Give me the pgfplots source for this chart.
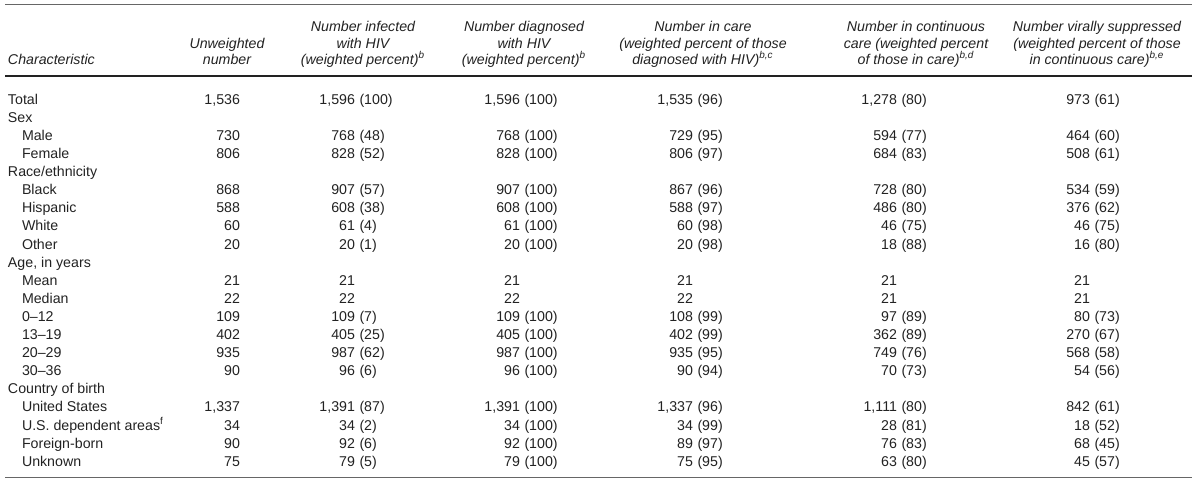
\documentclass[border=0pt]{standalone}
\usepackage{fontspec}
\setmainfont{Liberation Sans}
\usepackage{pgfplots}
\usepackage{pgfplotstable}
\pgfplotsset{compat=1.18}
\definecolor{txt}{HTML}{222222}
\definecolor{rulec}{HTML}{666666}

% row index; numbers and (weighted percent) for the six value columns
\pgfplotstableread[col sep=semicolon]{
r;n1;n2;p2;n3;p3;n4;p4;n5;p5;n6;p6
0;1,536;1,596;(100);1,596;(100);1,535;(96);1,278;(80);973;(61)
2;730;768;(48);768;(100);729;(95);594;(77);464;(60)
3;806;828;(52);828;(100);806;(97);684;(83);508;(61)
5;868;907;(57);907;(100);867;(96);728;(80);534;(59)
6;588;608;(38);608;(100);588;(97);486;(80);376;(62)
7;60;61;(4);61;(100);60;(98);46;(75);46;(75)
8;20;20;(1);20;(100);20;(98);18;(88);16;(80)
10;21;21;{};21;{};21;{};21;{};21;{}
11;22;22;{};22;{};22;{};21;{};21;{}
12;109;109;(7);109;(100);108;(99);97;(89);80;(73)
13;402;405;(25);405;(100);402;(99);362;(89);270;(67)
14;935;987;(62);987;(100);935;(95);749;(76);568;(58)
15;90;96;(6);96;(100);90;(94);70;(73);54;(56)
17;1,337;1,391;(87);1,391;(100);1,337;(96);1,111;(80);842;(61)
18;34;34;(2);34;(100);34;(99);28;(81);18;(52)
19;90;92;(6);92;(100);89;(97);76;(83);68;(45)
20;75;79;(5);79;(100);75;(95);63;(80);45;(57)
}\datatab

\pgfplotstableread[col sep=semicolon]{
r;x;label
0;8;Total
1;8;Sex
2;22;Male
3;22;Female
4;8;Race/ethnicity
5;22;Black
6;22;Hispanic
7;22;White
8;22;Other
9;8;Age, in years
10;22;Mean
11;22;Median
12;22;0–12
13;22;13–19
14;22;20–29
15;22;30–36
16;8;Country of birth
17;22;United States
18;22;U.S. dependent areas\textsuperscript{f}
19;22;Foreign-born
20;22;Unknown
}\labeltab

\pgfplotstableread[col sep=semicolon]{
x;y;label
227;48.5;Unweighted
227;65;number
363;32;Number infected
363;48.5;with HIV
363;65;(weighted percent)\textsuperscript{b}
524;32;Number diagnosed
524;48.5;with HIV
524;65;(weighted percent)\textsuperscript{b}
703;32;Number in care
703;48.5;(weighted percent of those
703;65;diagnosed with HIV)\textsuperscript{b,c}
916;32;Number in continuous
916;48.5;care (weighted percent
916;65;of those in care)\textsuperscript{b,d}
1097;32;Number virally suppressed
1097;48.5;(weighted percent of those
1097;65;in continuous care)\textsuperscript{b,e}
}\headtab

\pgfplotsset{
  cell/.style={only marks, mark=none, nodes near coords, point meta=explicit symbolic,
    every node near coord/.append style={inner sep=0pt, outer sep=0pt, text=txt,
      font=\fontsize{7.1}{8.5}\selectfont, anchor=#1}},
}

\begin{document}
\begin{tikzpicture}
\begin{axis}[hide axis, scale only axis, width=600pt, height=240pt,
  xmin=0, xmax=1200, ymin=0, ymax=480, y dir=reverse, clip=false]
% bounding box
\addplot[draw=none, mark=none] coordinates {(0,0) (1200,480)};
% rules
\addplot[draw=rulec, line width=0.5pt, mark=none] coordinates {(5,5) (1192,5)};
\addplot[draw=txt, line width=1.2pt, mark=none] coordinates {(5,76) (1192,76)};
\addplot[draw=rulec, line width=0.5pt, mark=none] coordinates {(5,478) (1192,478)};
% header
\addplot[cell=base west, every node near coord/.append style={font=\fontsize{7.1}{8.5}\selectfont\itshape}]
  coordinates {(8,65)[Characteristic]};
\addplot[cell=base, every node near coord/.append style={font=\fontsize{7.1}{8.5}\selectfont\itshape}]
  table[x=x, y=y, meta=label] {\headtab};
% row labels
\addplot[cell=base west] table[x=x, y expr=104.3+18.1*\thisrow{r}, meta=label] {\labeltab};
% values
\addplot[cell=base east] table[x expr=240, y expr=104.3+18.1*\thisrow{r}, meta=n1] {\datatab};
\addplot[cell=base east] table[x expr=355, y expr=104.3+18.1*\thisrow{r}, meta=n2] {\datatab};
\addplot[cell=base west] table[x expr=359.5, y expr=104.3+18.1*\thisrow{r}, meta=p2] {\datatab};
\addplot[cell=base east] table[x expr=520, y expr=104.3+18.1*\thisrow{r}, meta=n3] {\datatab};
\addplot[cell=base west] table[x expr=524.5, y expr=104.3+18.1*\thisrow{r}, meta=p3] {\datatab};
\addplot[cell=base east] table[x expr=693, y expr=104.3+18.1*\thisrow{r}, meta=n4] {\datatab};
\addplot[cell=base west] table[x expr=697.5, y expr=104.3+18.1*\thisrow{r}, meta=p4] {\datatab};
\addplot[cell=base east] table[x expr=897, y expr=104.3+18.1*\thisrow{r}, meta=n5] {\datatab};
\addplot[cell=base west] table[x expr=901.5, y expr=104.3+18.1*\thisrow{r}, meta=p5] {\datatab};
\addplot[cell=base east] table[x expr=1090, y expr=104.3+18.1*\thisrow{r}, meta=n6] {\datatab};
\addplot[cell=base west] table[x expr=1094.5, y expr=104.3+18.1*\thisrow{r}, meta=p6] {\datatab};
\end{axis}
\end{tikzpicture}
\end{document}
